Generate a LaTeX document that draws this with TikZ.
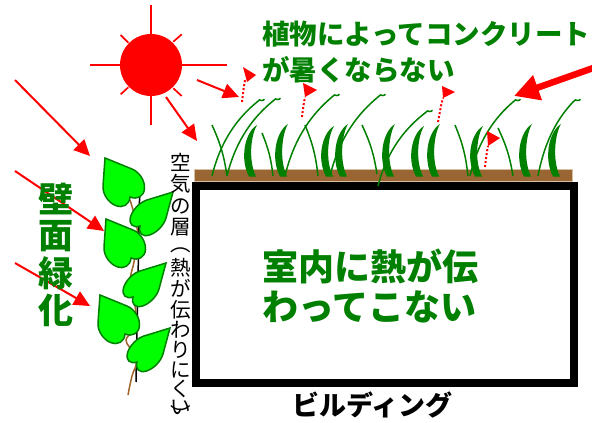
\documentclass[tikz,border=0pt]{standalone}
\usepackage{fontspec}
\newfontfamily\jp{Noto Sans CJK JP}
\usetikzlibrary{arrows.meta}

\definecolor{ivygreen}{RGB}{0,128,0}
\definecolor{leafgreen}{RGB}{0,255,0}
\definecolor{soil}{RGB}{153,102,51}
\definecolor{soilrim}{RGB}{216,191,159}
\definecolor{sunred}{RGB}{255,0,0}
\definecolor{vinebrown}{RGB}{160,101,45}

\tikzset{
  sunray/.style={sunred, line width=1.7pt},
  heatray/.style={sunred, line width=2pt, -{Triangle[length=16pt,width=15pt]}},
  bigray/.style={sunred, line width=6.5pt, -{Triangle[length=25pt,width=25pt]}},
  warmth/.style={sunred, line width=2pt, dash pattern=on 2pt off 2pt},
  blade/.style={ivygreen, line width=1.5pt},
  leafshape/.style={fill=leafgreen, draw=ivygreen, line width=1.5pt},
  greenlabel/.style={text=ivygreen, inner sep=0pt},
  blacklabel/.style={text=black, inner sep=0pt},
  captionfont/.style={blacklabel, font=\jp\fontsize{20.5}{20.5}\selectfont},
  captionchar/.style={captionfont, text height=16pt, text depth=0pt},
}

% heart-shaped ivy leaf: tip at the origin, lobes on the two far sides
\newcommand{\ivyleaf}[2]{%
  \begin{scope}[cm={#2,(#1)}]
    \path[leafshape] (0,0) -- (0,1)
      .. controls (0,1.276) and (0.224,1.5) .. (0.5,1.5)
      .. controls (0.776,1.5) and (1,1.276) .. (1,1)
      .. controls (1.276,1) and (1.5,0.776) .. (1.5,0.5)
      .. controls (1.5,0.224) and (1.276,0) .. (1,0) -- cycle;
  \end{scope}}

\begin{document}
\begin{tikzpicture}[x=1pt,y=-1pt]
  \useasboundingbox (0,0) rectangle (592,423);
  \fill[white] (0,0) rectangle (592,423);

  % building
  \draw[line width=8pt] (196,186) rectangle (574,383);
  % soil layer on the roof
  \filldraw[fill=soil, draw=soilrim, line width=0.8pt] (194,169) rectangle (572,181);

  % grass: straight thin blades
  \foreach \xa/\ya/\xb/\yb in {212/125/227/176, 262/133/273/176, 305/125/318/176,
      362/125/377/174, 455/125/468/176, 498/128/513/176}
    \draw[blade] (\xa,\ya) to[bend left=8] (\xb,\yb);
  % grass: long blades with a curled tip
  \foreach \xa/\ya/\xb/\yb in {212/176/257/102, 227/176/273/101, 285/176/332/97,
      330/176/378/97, 378/186/425/113, 470/176/513/102, 538/176/573/102}
    \draw[blade] (\xa,\ya) .. controls (\xa+0.2*\xb-0.2*\xa, \ya-0.5*\ya+0.5*\yb)
        and (\xb-0.4*\xb+0.4*\xa, \yb+0.2*\ya-0.2*\yb) .. (\xb,\yb)
      .. controls (\xb+1.5,\yb-2.5) and (\xb+3.5,\yb-2.5) .. (\xb+4.5,\yb-1.5)
      .. controls (\xb+5.5,\yb-0.8) and (\xb+6.5,\yb-2) .. (\xb+7.5,\yb-2.8);
  % grass: thick crescent blades
  \foreach \x/\y in {257/125, 288/124, 334/126, 348/124, 395/124,
      424/126, 440/124, 483/126, 532/124, 561/124}
    \fill[ivygreen] (\x,\y) .. controls (\x-13,\y+8) and (\x-17,160) .. (\x-8,176.5)
      -- (\x-1,176.5) .. controls (\x-9,160) and (\x-6,\y+10) .. (\x,\y) -- cycle;

  % heat rising from the roof (dotted arrows)
  \draw[warmth] (242,102) .. controls (243,93) and (244,86) .. (245,80);
  \fill[sunred] (243,67) -- (256,75) -- (247,82) -- cycle;
  \draw[warmth] (302,117) .. controls (303,108) and (304,102) .. (305,97);
  \fill[sunred] (303,83) -- (317,90) -- (305,97) -- cycle;
  \draw[warmth] (438,122) .. controls (440,112) and (441,104) .. (443,98);
  \fill[sunred] (442,86) -- (455,92) -- (443,98) -- cycle;
  \draw[warmth] (485,167) .. controls (486,158) and (487,151) .. (488,146);
  \fill[sunred] (487,131) -- (500,138) -- (488,146) -- cycle;

  % sun
  \draw[sunray] (90,65) -- (227,65);
  \draw[sunray] (151,5) -- (151,125);
  \draw[sunray] (120.7,35) -- (128.3,42.7);
  \draw[sunray] (173.3,41.7) -- (181.7,34.3);
  \draw[sunray] (120.7,94.3) -- (128.3,87.3);
  \draw[sunray] (173.3,88.3) -- (181.7,96);
  \fill[sunred] (151,65) circle[radius=31pt];

  % sunlight
  \draw[heatray] (197,80) -- (239,97);
  \draw[heatray] (166,97) -- (197,141);
  \draw[heatray] (15,80) -- (90,156);
  \draw[heatray] (15,171) -- (104,231);
  \draw[heatray] (15,263) -- (90,306);
  \draw[bigray] (596,67) -- (514,96);

  % wall greening: support line, vine and leaves
  \draw[line width=1.5pt] (140,175) -- (136,382);
  \draw[vinebrown, line width=1.5pt] plot[smooth, tension=0.7] coordinates {
    (128,395) (132,376) (137,360) (130,348) (126,340) (132,331) (136,318)
    (134,300) (130,282) (134,262) (138,240) (135,218) (130,200)};
  \ivyleaf{105,158}{27,-11,2,28}
  \ivyleaf{173,192}{-26,-8,7,26}
  \ivyleaf{106,219}{27,-11,2,28}
  \ivyleaf{166,263}{-26,-8,7,26}
  \ivyleaf{100,295}{27,-11,2,28}
  \ivyleaf{170,328}{-26,-8,7,26}

  % labels
  \node[greenlabel, anchor=base west, font=\jp\bfseries\fontsize{27.5}{27.5}\selectfont]
    (title1) at (262,44) {植物によってコンクリート};
  \node[greenlabel, anchor=base west, font=\jp\bfseries\fontsize{27.5}{27.5}\selectfont]
    (title2) at (262,80.5) {が暑くならない};
  \node[greenlabel, anchor=base west, font=\jp\bfseries\fontsize{36}{36}\selectfont]
    (room1) at (262,280) {室内に熱が伝};
  \node[greenlabel, anchor=base west, font=\jp\bfseries\fontsize{36}{36}\selectfont]
    (room2) at (262,320) {わってこない};
  \foreach \c [count=\i] in {壁,面,緑,化}
    \node[greenlabel, font=\jp\bfseries\fontsize{35}{35}\selectfont]
      (wall\i) at (56,162+37*\i) {\c};

  % vertical caption, one character per cell
  \foreach \c/\y [count=\i] in {空/162,気/183,の/205,層/226,熱/267,が/288,伝/309,
      わ/329,り/349,に/369,く/388,い/406}
    \node[captionchar] (air\i) at (181,\y) {\c};
  % vertical-form brackets
  \node[captionfont] (airopen) at (181,250) {︵};
  \node[captionfont] (airclose) at (181,414) {︶};

  \node[blacklabel, anchor=base west, font=\jp\bfseries\fontsize{27}{27}\selectfont]
    (bldg) at (292,415) {ビルディング};
\end{tikzpicture}
\end{document}
